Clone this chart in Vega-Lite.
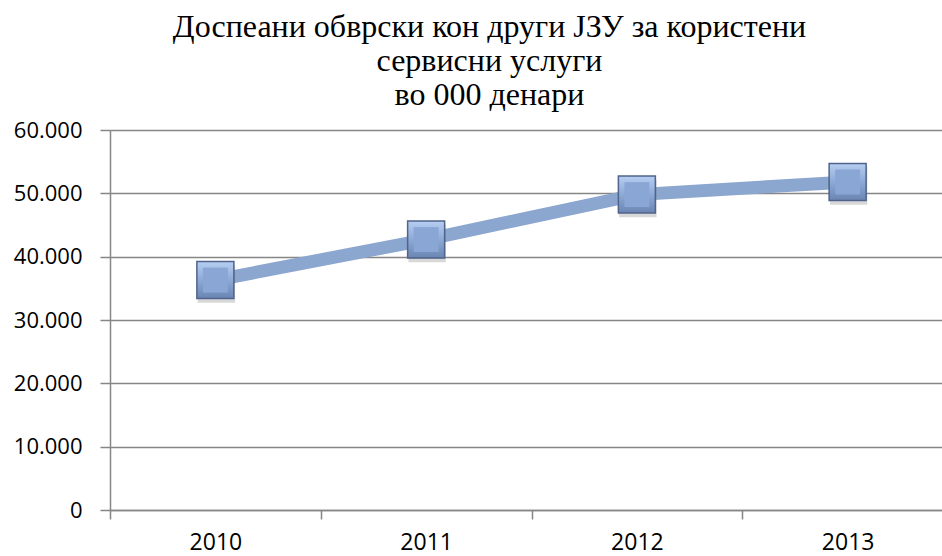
{
  "$schema": "https://vega.github.io/schema/vega-lite/v6.json",
  "autosize": {"type": "none"},
  "padding": {"left": 110, "top": 130, "right": 0, "bottom": 46},
  "width": 843,
  "height": 380,
  "background": "white",
  "title": {
    "text": ["Доспеани обврски кон други ЈЗУ за користени", "сервисни услуги", "во 000 денари"],
    "font": "Liberation Serif",
    "fontSize": 32,
    "fontWeight": "normal",
    "color": "#000000",
    "lineHeight": 34,
    "anchor": "middle",
    "frame": "group",
    "dx": -42,
    "offset": 7
  },
  "config": {
    "view": {"stroke": null},
    "axis": {
      "labelFont": "Open Sans",
      "labelColor": "#000000",
      "domainColor": "#868686",
      "tickColor": "#868686",
      "gridColor": "#868686",
      "domainWidth": 1.5,
      "tickWidth": 1.5,
      "gridWidth": 1.5
    }
  },
  "data": {
    "values": [
      {"year": "2010", "value": 36300},
      {"year": "2011", "value": 42700},
      {"year": "2012", "value": 49800},
      {"year": "2013", "value": 51800}
    ]
  },
  "encoding": {
    "x": {
      "field": "year",
      "type": "ordinal",
      "scale": {"type": "band", "paddingInner": 0, "paddingOuter": 0},
      "axis": {
        "title": null,
        "labelAngle": 0,
        "labelFontSize": 23,
        "tickBand": "extent",
        "tickSize": 9,
        "labelPadding": 12,
        "grid": false
      }
    },
    "y": {
      "field": "value",
      "type": "quantitative",
      "scale": {"domain": [0, 60000], "nice": false, "zero": true},
      "axis": {
        "title": null,
        "values": [0, 10000, 20000, 30000, 40000, 50000, 60000],
        "labelExpr": "replace(format(datum.value, ','), ',', '.')",
        "labelFontSize": 22,
        "tickSize": 10,
        "labelPadding": 18,
        "grid": true
      }
    }
  },
  "layer": [
    {
      "mark": {"type": "line", "color": "#8BA6CF", "strokeWidth": 13, "strokeCap": "butt"}
    },
    {
      "mark": {"type": "point", "shape": "square", "size": 1400, "filled": true, "fill": "#7f7f7f", "opacity": 0.3, "yOffset": 4, "xOffset": 1, "strokeWidth": 0}
    },
    {
      "mark": {
        "type": "point",
        "shape": "square",
        "size": 1369,
        "filled": true,
        "opacity": 1,
        "fill": {
          "gradient": "linear",
          "x1": 0, "y1": 0, "x2": 0, "y2": 1,
          "stops": [
            {"offset": 0, "color": "#B6CEF2"},
            {"offset": 0.5, "color": "#8DA9D6"},
            {"offset": 1, "color": "#6A85B2"}
          ]
        },
        "stroke": "#50638A",
        "strokeWidth": 1.5
      }
    },
    {
      "mark": {"type": "point", "shape": "square", "size": 620, "filled": true, "opacity": 1, "fill": "#89A6D4", "strokeWidth": 0}
    }
  ]
}
